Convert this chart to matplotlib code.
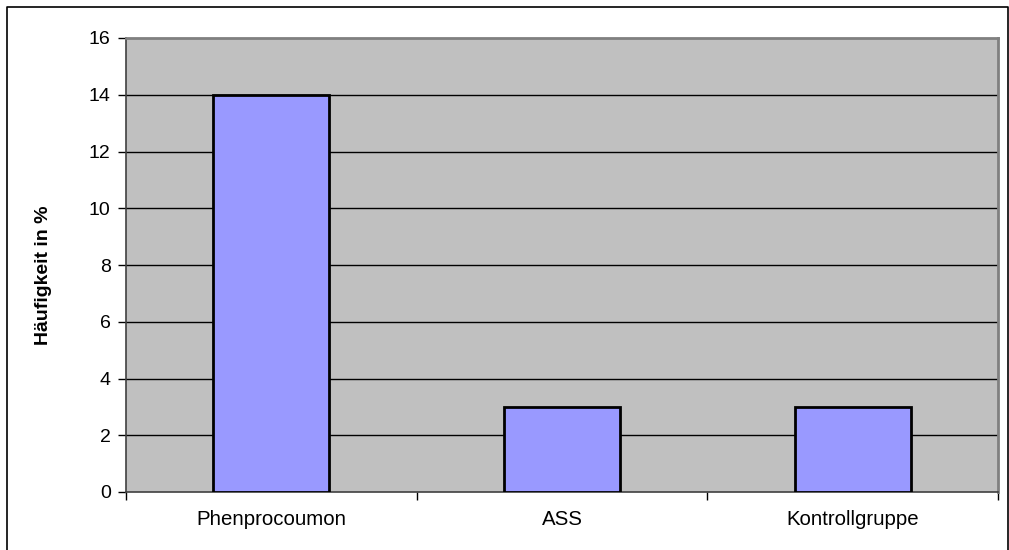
import matplotlib
matplotlib.use("Agg")
import matplotlib.pyplot as plt
from matplotlib.lines import Line2D

plt.rcParams['font.family'] = ['Liberation Sans', 'DejaVu Sans']

categories = ["Phenprocoumon", "ASS", "Kontrollgruppe"]
values = [14, 3, 3]
y_ticks = [0, 2, 4, 6, 8, 10, 12, 14, 16]

W, H = 1009, 550
fig = plt.figure(figsize=(W / 100, H / 100), dpi=100)

# outer frame (left, top, right only - bottom runs off the image)
fx0, fy0, fx1 = 7 / W, 1 - 7 / H, 1007.5 / W
fig.add_artist(Line2D([fx0, fx0, fx1, fx1], [-0.01, fy0, fy0, -0.01],
                      transform=fig.transFigure, color='black', lw=1.2))

ax = fig.add_axes([126 / W, 1 - 492 / H, (998 - 126) / W, (492 - 38) / H])
ax.set_facecolor('#C0C0C0')

x = list(range(len(categories)))
ax.bar(x, values, width=0.4, color='#9999FF', edgecolor='black', linewidth=2, zorder=3)

ax.set_xlim(-0.5, len(categories) - 0.5)
ax.set_ylim(0, 16)
ax.set_yticks(y_ticks)
ax.tick_params(axis='y', labelsize=14, length=6, width=1, pad=5)

# category labels centred, ticks at category boundaries
ax.set_xticks(x)
ax.set_xticklabels(categories)
ax.tick_params(axis='x', which='major', length=0, labelsize=14.7, pad=13)
ax.set_xticks([i - 0.5 for i in range(len(categories) + 1)], minor=True)
ax.tick_params(axis='x', which='minor', length=6, width=1)

for t in y_ticks[1:-1]:
    ax.axhline(t, color='black', lw=1, zorder=1)

for s in ['top', 'right']:
    ax.spines[s].set_color('#808080')
    ax.spines[s].set_linewidth(2)
ax.spines['left'].set_color('#404040')
ax.spines['left'].set_linewidth(1.2)
ax.spines['bottom'].set_color('#404040')
ax.spines['bottom'].set_linewidth(1.2)

fig.text(44 / W, 1 - 275 / H, "Häufigkeit in %", rotation=90, ha='center', va='center',
         fontsize=14, fontweight='bold')

fig.savefig("out.png", dpi=100)
